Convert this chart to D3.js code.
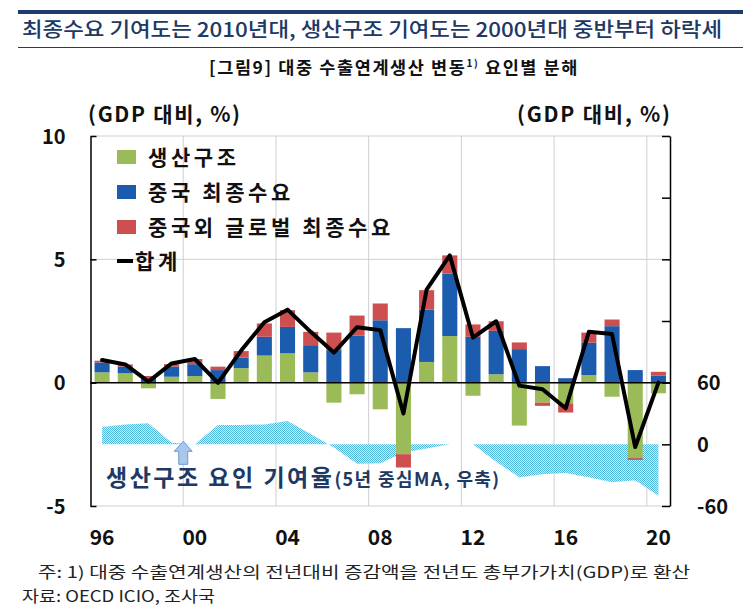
<!DOCTYPE html>
<html>
<head>
<meta charset="utf-8">
<script src="https://cdn.jsdelivr.net/npm/d3@7"></script>
<style>
  html, body { margin: 0; padding: 0; background: #fff; }
  svg { display: block; font-family: "Noto Sans CJK KR", "Noto Sans", sans-serif; }
</style>
</head>
<body>
<svg id="chart" width="743" height="611"></svg>
<script>
// ---------- data ----------
const years = [1996,1997,1998,1999,2000,2001,2002,2003,2004,2005,2006,2007,2008,2009,2010,2011,2012,2013,2014,2015,2016,2017,2018,2019,2020];
const prodStructure = [0.42,0.38,-0.23,0.24,0.27,-0.66,0.59,1.10,1.19,0.42,-0.81,-0.47,-1.08,-2.90,0.84,1.89,-0.53,0.34,-1.74,-0.81,-0.84,0.31,-0.57,-3.06,-0.43];
const chinaDemand   = [0.40,0.27,0.15,0.41,0.48,0.51,0.43,0.76,1.07,1.10,1.32,1.90,2.53,2.21,2.12,2.53,1.86,1.76,1.36,0.67,0.18,1.31,2.29,0.51,0.28];
const otherDemand   = [0.07,0.09,0.12,0.10,0.21,0.14,0.26,0.54,0.68,0.54,0.71,0.82,0.68,-0.54,0.79,0.74,0.50,0.39,0.27,-0.13,-0.37,0.41,0.27,-0.07,0.16];
const total         = [0.92,0.74,0.04,0.78,0.96,-0.01,1.30,2.45,2.96,2.06,1.22,2.25,2.13,-1.25,3.77,5.16,1.83,2.49,-0.12,-0.27,-1.04,2.06,1.97,-2.61,0.00];
const prodShareMA   = [16.9,19.4,20.4,1.6,0,18.8,18.8,19.4,22.7,10,-3,-19,-18.5,-8,-4,0,0,-17,-32,-29,-28,-32,-37,-35,-50];

const seriesNames = ["생산구조","중국 최종수요","중국외 글로벌 최종수요"];
const seriesColors = ["#9bbb59","#1c5cae","#cd4f4f"];
const lineName = "합계";
const leftTicks = [10,5,0,-5];
const rightTicks = [-60,0,60,120,180,240,300];
const rightLabelled = [-60,0,60];
const xTickYears = [1996,2000,2004,2008,2012,2016,2020];

const titleText = "최종수요 기여도는 2010년대, 생산구조 기여도는 2000년대 중반부터 하락세";
const subtitleText = "[그림9] 대중 수출연계생산 변동";
const unitText = "(GDP 대비, %)";
const annoMain = "생산구조 요인 기여율";
const annoSub = "(5년 중심MA, 우축)";
const note1 = "주: 1) 대중 수출연계생산의 전년대비 증감액을 전년도 총부가가치(GDP)로 환산";
const note2 = "자료: OECD ICIO, 조사국";

// ---------- layout ----------
const svg = d3.select("#chart");
const X0 = 90.5, X1 = 670, YT = 136, YB = 506;
const navy = "#203864";
const hyphenFmt = v => String(v).replace("\u2212", "-");

const x = d3.scaleBand().domain(years).range([X0, X1]).paddingInner(0.35).paddingOuter(0.175);
const y = d3.scaleLinear().domain([-5, 10]).range([YB, YT]);
const yR = d3.scaleLinear().domain([-60, 300]).range([YB, YT]);

// header
svg.append("rect").attr("x", 18).attr("y", 10).attr("width", 725).attr("height", 4).attr("fill", "#1f3c6e");
svg.append("text").attr("x", 22).attr("y", 37).attr("font-size", 20).attr("font-weight", 500)
  .attr("fill", navy).attr("textLength", 700).attr("lengthAdjust", "spacingAndGlyphs").text(titleText);
svg.append("line").attr("x1", 18).attr("x2", 743).attr("y1", 47.5).attr("y2", 47.5).attr("stroke", "#1f3c6e").attr("stroke-width", 1.2);
const sub = svg.append("text").attr("x", 394).attr("y", 74).attr("text-anchor", "middle")
  .attr("font-size", 17.5).attr("font-weight", 700).attr("fill", "#111").attr("letter-spacing", 1.6);
sub.append("tspan").text(subtitleText);
sub.append("tspan").attr("font-size", 10).attr("dy", -7).text("1)");
sub.append("tspan").attr("dy", 7).text(" 요인별 분해");

// unit labels
svg.append("text").attr("x", 88).attr("y", 122).attr("font-size", 21).attr("font-weight", 700).attr("fill", "#111")
  .attr("textLength", 152).attr("lengthAdjust", "spacing").text(unitText);
svg.append("text").attr("x", 517).attr("y", 122).attr("font-size", 21).attr("font-weight", 700).attr("fill", "#111")
  .attr("textLength", 153).attr("lengthAdjust", "spacing").text(unitText);

// gridlines
const grid = svg.append("g").attr("stroke", "#cfcfcf").attr("stroke-width", 1);
[10, 5, -5].forEach(v => grid.append("line").attr("x1", X0).attr("x2", X1).attr("y1", y(v)).attr("y2", y(v)));
xTickYears.slice(1).forEach(yr => {
  const gx = x(yr) - x.step() * x.paddingInner() / 2;
  grid.append("line").attr("x1", gx).attr("x2", gx).attr("y1", YT).attr("y2", YB);
});

// hatched MA area (right axis)
const defs = svg.append("defs");
const pat = defs.append("pattern").attr("id", "hatch").attr("patternUnits", "userSpaceOnUse").attr("width", 2).attr("height", 2);
pat.append("rect").attr("width", 2).attr("height", 2).attr("fill", "#d3eef7");
pat.append("rect").attr("width", 1).attr("height", 1).attr("fill", "#4fb6dc");
pat.append("rect").attr("x", 1).attr("y", 1).attr("width", 1).attr("height", 1).attr("fill", "#4fb6dc");
const areaGen = d3.area()
  .x((d, i) => x(years[i]) + x.bandwidth() / 2)
  .y0(yR(0)).y1(d => yR(d));
svg.append("path").datum(prodShareMA).attr("d", areaGen).attr("fill", "url(#hatch)");

// stacked bars
const rows = years.map((yr, i) => ({ year: yr, s0: prodStructure[i], s1: chinaDemand[i], s2: otherDemand[i] }));
const stack = d3.stack().keys(["s0", "s1", "s2"]).offset(d3.stackOffsetDiverging);
const stacked = stack(rows);
svg.append("g").selectAll("g").data(stacked).join("g")
  .attr("fill", (d, i) => seriesColors[i])
  .selectAll("rect").data(d => d).join("rect")
  .attr("x", d => x(d.data.year))
  .attr("width", x.bandwidth())
  .attr("y", d => y(Math.max(d[0], d[1])))
  .attr("height", d => Math.abs(y(d[0]) - y(d[1])));

// zero line
svg.append("line").attr("x1", X0).attr("x2", X1).attr("y1", y(0)).attr("y2", y(0)).attr("stroke", "#000").attr("stroke-width", 1.5);

// total line
const lineGen = d3.line().x((d, i) => x(years[i]) + x.bandwidth() / 2).y(d => y(d));
svg.append("path").datum(total).attr("d", lineGen).attr("fill", "none").attr("stroke", "#000")
  .attr("stroke-width", 4).attr("stroke-linejoin", "round").attr("stroke-linecap", "round");

// axes
const axL = svg.append("g").attr("transform", `translate(${X0},0)`)
  .call(d3.axisLeft(y).tickValues(leftTicks).tickSizeInner(-6).tickSizeOuter(0).tickPadding(25).tickFormat(hyphenFmt));
const axR = svg.append("g").attr("transform", `translate(${X1},0)`)
  .call(d3.axisRight(yR).tickValues(rightTicks).tickSizeInner(-8).tickSizeOuter(0).tickPadding(27)
    .tickFormat(v => rightLabelled.includes(v) ? hyphenFmt(v) : ""));
[axL, axR].forEach(g => {
  g.select(".domain").attr("stroke", "#000").attr("stroke-width", 1.5);
  g.selectAll(".tick line").attr("stroke", "#000").attr("stroke-width", 1.5);
  g.selectAll("text").attr("font-size", 20).attr("font-weight", 700).attr("fill", "#111")
    .attr("font-family", "'Noto Sans CJK KR', sans-serif").attr("dy", "0.35em");
});
const axB = svg.append("g").attr("transform", `translate(0,${YB})`)
  .call(d3.axisBottom(x).tickValues(xTickYears).tickSize(0).tickPadding(24)
    .tickFormat(v => String(v).slice(2)));
axB.select(".domain").remove();
axB.selectAll("text").attr("font-size", 21).attr("font-weight", 700).attr("fill", "#111")
  .attr("font-family", "'Noto Sans CJK KR', sans-serif");

// legend
const legY = [157, 192, 227];
seriesNames.forEach((n, i) => {
  svg.append("rect").attr("x", 117).attr("y", legY[i] - 7).attr("width", 19).attr("height", 14).attr("fill", seriesColors[i]);
  svg.append("text").attr("x", 148).attr("y", legY[i] + 7.5).attr("font-size", 21).attr("font-weight", 700).attr("fill", "#111")
    .attr("letter-spacing", 3.6).text(n);
});
svg.append("line").attr("x1", 117).attr("x2", 133).attr("y1", 261).attr("y2", 261).attr("stroke", "#000").attr("stroke-width", 4);
svg.append("text").attr("x", 135).attr("y", 268.5).attr("font-size", 21).attr("font-weight", 700).attr("fill", "#111")
  .attr("letter-spacing", 3.6).text(lineName);

// arrow annotation
const ax = x(2000) - x.step() * x.paddingInner() / 2;
const ay = yR(0) - 3;
svg.append("path")
  .attr("d", `M${ax},${ay} L${ax + 9},${ay + 10} L${ax + 4.5},${ay + 10} L${ax + 4.5},${ay + 23} L${ax - 4.5},${ay + 23} L${ax - 4.5},${ay + 10} L${ax - 9},${ay + 10} Z`)
  .attr("fill", "#a7c8ea").attr("stroke", "#6e9ad0").attr("stroke-width", 1);
const anno = svg.append("text").attr("x", 106).attr("y", 486).attr("font-weight", 700).attr("fill", navy);
anno.append("tspan").attr("font-size", 23).attr("letter-spacing", 2.5).text(annoMain);
anno.append("tspan").attr("font-size", 18).attr("letter-spacing", 1.4).text(annoSub);

// notes
svg.append("text").attr("x", 38).attr("y", 578).attr("font-size", 15.5).attr("fill", "#222")
  .attr("textLength", 652).attr("lengthAdjust", "spacingAndGlyphs").text(note1);
svg.append("text").attr("x", 22).attr("y", 602).attr("font-size", 15.5).attr("fill", "#222")
  .attr("textLength", 193).attr("lengthAdjust", "spacingAndGlyphs").text(note2);
</script>
</body>
</html>
